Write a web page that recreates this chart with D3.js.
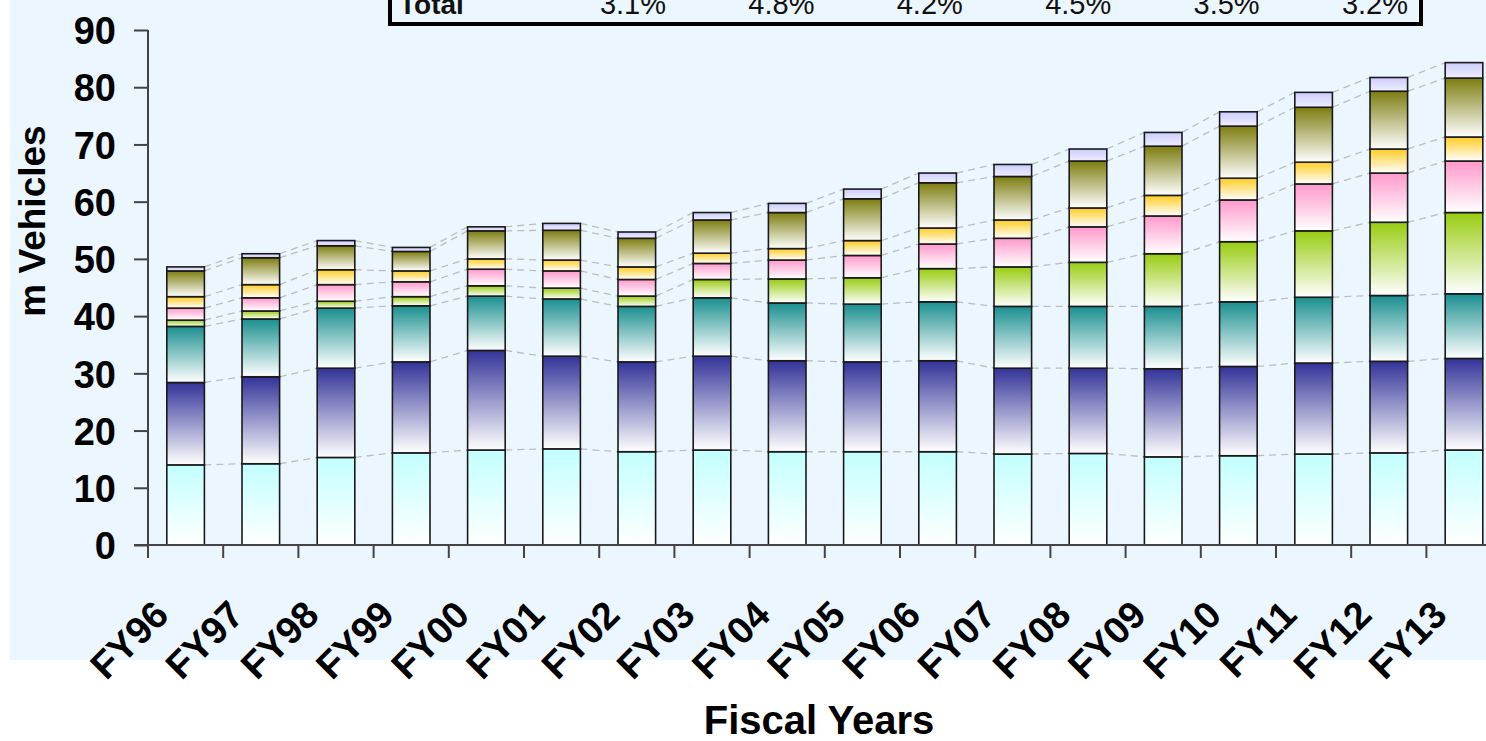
<!DOCTYPE html>
<html>
<head>
<meta charset="utf-8">
<script src="https://cdn.jsdelivr.net/npm/d3@7"></script>
<style>
  html, body { margin: 0; padding: 0; background: #ffffff; }
  svg { display: block; font-family: "Liberation Sans", Arial, sans-serif; }
</style>
</head>
<body>
<svg id="chart" width="1486" height="741"></svg>
<script>
// Fiscal years on the category axis
const years = ["FY96","FY97","FY98","FY99","FY00","FY01","FY02","FY03","FY04",
               "FY05","FY06","FY07","FY08","FY09","FY10","FY11","FY12","FY13"];

// Vehicle counts per segment (millions), stacked bottom to top
const seriesCyan     = [14.0,14.2,15.3,16.1,16.6,16.8,16.3,16.6,16.3,16.3,16.3,15.9,16.0,15.4,15.6,15.9,16.1,16.6];
const seriesNavy     = [14.4,15.2,15.6,15.9,17.4,16.2,15.7,16.4,15.9,15.7,15.9,15.0,14.9,15.4,15.6,15.9,16.0,16.0];
const seriesTeal     = [ 9.8,10.1,10.5, 9.8, 9.5,10.0, 9.7,10.2,10.1,10.1,10.3,10.8,10.8,10.9,11.3,11.5,11.5,11.3];
const seriesGreen    = [ 1.1, 1.4, 1.2, 1.6, 1.8, 1.9, 1.8, 3.2, 4.2, 4.6, 5.8, 6.9, 7.7, 9.2,10.5,11.6,12.8,14.2];
const seriesPink     = [ 2.1, 2.3, 2.9, 2.6, 2.9, 3.0, 2.9, 2.8, 3.3, 3.9, 4.3, 5.0, 6.2, 6.6, 7.3, 8.2, 8.6, 9.0];
const seriesYellow   = [ 2.0, 2.3, 2.6, 1.9, 1.8, 1.9, 2.2, 1.8, 2.0, 2.6, 2.8, 3.2, 3.3, 3.6, 3.8, 3.8, 4.2, 4.2];
const seriesOlive    = [ 4.5, 4.7, 4.2, 3.4, 4.9, 5.2, 5.0, 5.8, 6.3, 7.3, 7.9, 7.6, 8.2, 8.6, 9.1, 9.6,10.1,10.3];
const seriesLavender = [ 0.7, 0.7, 0.9, 0.7, 0.7, 1.2, 1.1, 1.3, 1.6, 1.7, 1.7, 2.1, 2.1, 2.4, 2.5, 2.6, 2.4, 2.7];

// Y axis tick values
const yTicks = [0,10,20,30,40,50,60,70,80,90];

// Growth table row shown along the top
const tableRowLabel = "Total";
const tableGrowth = ["3.1%","4.8%","4.2%","4.5%","3.5%","3.2%"];

const seriesKeys = ["cyan","navy","teal","green","pink","yellow","olive","lavender"];
const seriesArrays = [seriesCyan, seriesNavy, seriesTeal, seriesGreen, seriesPink,
                      seriesYellow, seriesOlive, seriesLavender];
// top colour -> bottom colour of each segment's vertical fade
const fills = {
  cyan:     ["#c2ffff", "#ffffff"],
  navy:     ["#333399", "#ffffff"],
  teal:     ["#1a8f8f", "#ffffff"],
  green:    ["#99cc11", "#ffffff"],
  pink:     ["#ff99cc", "#ffffff"],
  yellow:   ["#ffcc22", "#ffffff"],
  olive:    ["#7d7d10", "#ffffff"],
  lavender: ["#ccccff", "#eeeeff"]
};

const table = years.map((y, i) => {
  const row = { year: y };
  seriesKeys.forEach((k, j) => row[k] = seriesArrays[j][i]);
  return row;
});

const svg = d3.select("#chart");

// panel background
svg.append("rect").attr("x", 10).attr("y", 0).attr("width", 1476).attr("height", 660)
   .attr("fill", "#ecf6ff");

// gradients
const defs = svg.append("defs");
seriesKeys.forEach(k => {
  const g = defs.append("linearGradient").attr("id", "g-" + k)
    .attr("x1", 0).attr("y1", 0).attr("x2", 0).attr("y2", 1);
  g.append("stop").attr("offset", "0%").attr("stop-color", fills[k][0]);
  g.append("stop").attr("offset", "100%").attr("stop-color", fills[k][1]);
});

// scales
const plotLeft = 148, step = 75.2;
const xCat = d3.scaleBand().domain(years)
  .range([plotLeft, plotLeft + step * years.length]).padding(0);
const barOffset = xCat.bandwidth() * 0.25, barWidth = xCat.bandwidth() * 0.5;
const y = d3.scaleLinear().domain([0, 90]).range([545, 30]);

const stacked = d3.stack().keys(seriesKeys)(table);

// series lines joining segment tops between neighbouring bars
const lines = svg.append("g").attr("stroke", "#bdbdbd").attr("stroke-width", 1.3)
  .attr("stroke-dasharray", "7,5").attr("fill", "none");
stacked.forEach(layer => {
  for (let i = 0; i < years.length - 1; i++) {
    lines.append("line")
      .attr("x1", xCat(years[i]) + barOffset + barWidth)
      .attr("y1", y(layer[i][1]))
      .attr("x2", xCat(years[i + 1]) + barOffset)
      .attr("y2", y(layer[i + 1][1]));
  }
});

// bars
const layers = svg.append("g").selectAll("g").data(stacked).join("g")
  .attr("fill", d => "url(#g-" + d.key + ")");
layers.selectAll("rect").data(d => d).join("rect")
  .attr("x", d => xCat(d.data.year) + barOffset)
  .attr("width", barWidth)
  .attr("y", d => y(d[1]))
  .attr("height", d => y(d[0]) - y(d[1]))
  .attr("stroke", "#1a1a1a").attr("stroke-width", 1.6);

// y axis
const yAxis = svg.append("g").attr("transform", `translate(${plotLeft},0)`)
  .call(d3.axisLeft(y).tickValues(yTicks).tickSize(14).tickPadding(18).tickFormat(d3.format("d")));
yAxis.select(".domain").attr("stroke", "#444").attr("stroke-width", 2)
  .attr("d", `M0,${y(90)}V558`);
yAxis.selectAll(".tick line").attr("stroke", "#444").attr("stroke-width", 2);
yAxis.selectAll(".tick text").attr("font-size", 38).attr("font-weight", "bold")
  .attr("fill", "#000").attr("font-family", "Liberation Sans, Arial, sans-serif").attr("dy", "0.36em");

// x axis: baseline and category-boundary ticks
const xAxis = svg.append("g");
xAxis.append("line").attr("x1", plotLeft - 14).attr("x2", 1486)
  .attr("y1", y(0)).attr("y2", y(0)).attr("stroke", "#444").attr("stroke-width", 2);
xAxis.selectAll("line.tk").data(years.slice(1)).join("line").attr("class", "tk")
  .attr("x1", d => xCat(d)).attr("x2", d => xCat(d))
  .attr("y1", y(0)).attr("y2", y(0) + 13).attr("stroke", "#444").attr("stroke-width", 2);
xAxis.selectAll("text").data(years).join("text")
  .attr("transform", d => `translate(${xCat(d) + xCat.bandwidth() / 2 - 15},617) rotate(-45)`)
  .attr("text-anchor", "end").attr("font-size", 38).attr("font-weight", "bold")
  .attr("fill", "#000").text(d => d);

// axis titles
svg.append("text").attr("transform", "translate(45,221) rotate(-90)")
  .attr("text-anchor", "middle").attr("font-size", 37).attr("font-weight", "bold")
  .attr("fill", "#000").text("m Vehicles");
svg.append("text").attr("x", 819).attr("y", 734)
  .attr("text-anchor", "middle").attr("font-size", 40).attr("font-weight", "bold")
  .attr("fill", "#000").text("Fiscal Years");

// growth table box at the top
svg.append("rect").attr("x", 390).attr("y", -30).attr("width", 1031).attr("height", 54)
  .attr("fill", "#ecf6ff").attr("stroke", "#000").attr("stroke-width", 4);
svg.append("text").attr("x", 399).attr("y", 14).attr("font-size", 28).attr("font-weight", "bold")
  .attr("fill", "#111").text(tableRowLabel);
const colX = d3.scalePoint().domain(tableGrowth.map((d, i) => i)).range([633, 1375]);
svg.selectAll("text.gr").data(tableGrowth).join("text").attr("class", "gr")
  .attr("x", (d, i) => colX(i)).attr("y", 14).attr("text-anchor", "middle")
  .attr("font-size", 29).attr("fill", "#111").text(d => d);
</script>
</body>
</html>
